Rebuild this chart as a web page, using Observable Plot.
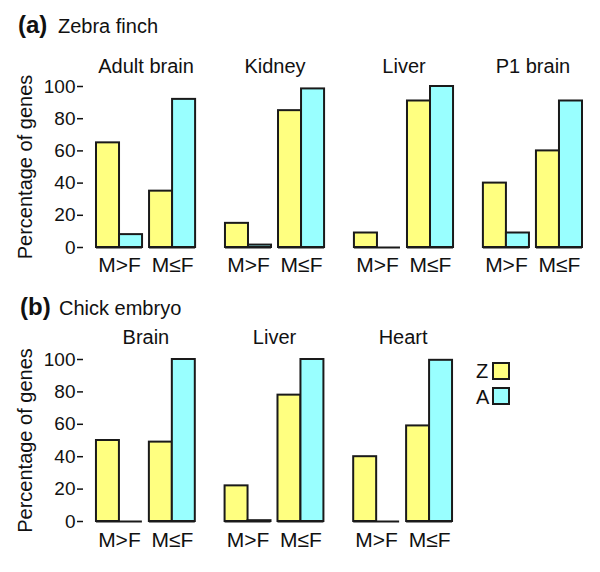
<!DOCTYPE html>
<html>
<head>
<meta charset="utf-8">
<script src="https://cdn.jsdelivr.net/npm/d3@7"></script>
<script src="https://cdn.jsdelivr.net/npm/@observablehq/plot@0.6"></script>
<style>
  html, body { margin: 0; padding: 0; background: #fff; }
  #root { position: relative; width: 600px; height: 572px; font-family: "Liberation Sans", Arial, sans-serif; color: #111; }
  .abs { position: absolute; white-space: nowrap; }
  .tag { font-weight: bold; font-size: 24px; line-height: 24px; }
  .ttl { font-size: 20px; line-height: 20px; }
  .sw { position: absolute; width: 18px; height: 18px; box-sizing: border-box; border: 2px solid #1a1a1a; }
  #root svg g[aria-label="y-axis label"] text { font-size: 20px !important; }
</style>
</head>
<body>
<div id="root"></div>
<script>
// ---- data ----
const groups = ["M>F", "M≤F"];
const series = ["Z", "A"];
const yTicks = [0, 20, 40, 60, 80, 100];

// (a) Zebra finch
const finchTissues = ["Adult brain", "Kidney", "Liver", "P1 brain"];
const finchZ_MgtF = [65, 15, 9, 40];
const finchZ_MleF = [35, 85, 91, 60];
const finchA_MgtF = [8, 1.5, 0, 9];
const finchA_MleF = [92, 98.5, 100, 91];

// (b) Chick embryo
const chickTissues = ["Brain", "Liver", "Heart"];
const chickZ_MgtF = [50, 22, 40];
const chickZ_MleF = [49, 78, 59];
const chickA_MgtF = [0, 0.5, 0];
const chickA_MleF = [100, 100, 99.5];

const colors = {Z: "#ffff80", A: "#99ffff"};
const strokeC = "#1a1a1a";

function rows(tissues, zGt, zLe, aGt, aLe) {
  const out = [];
  tissues.forEach((t, i) => {
    out.push({tissue: t, group: groups[0], series: "Z", value: zGt[i]});
    out.push({tissue: t, group: groups[0], series: "A", value: aGt[i]});
    out.push({tissue: t, group: groups[1], series: "Z", value: zLe[i]});
    out.push({tissue: t, group: groups[1], series: "A", value: aLe[i]});
  });
  return out;
}

const W = 600, ML = 83;
const fxPadInner = 0.03, xPadInner = 0.132, xPadOuter = 0.245;

function panel(tissues, data, {height, marginTop, marginBottom, marginRight, fxPad, xPad}) {
  // bandwidth of one group, used to split each group into its Z | A halves
  const fxBw = d3.scaleBand(tissues, [ML, W - marginRight]).paddingInner(fxPadInner).paddingOuter(0).bandwidth();
  const xBw = d3.scaleBand(groups, [0, fxBw]).paddingInner(xPadInner).paddingOuter(xPadOuter).bandwidth();
  const half = xBw / 2;
  return Plot.plot({
    width: W, height, marginLeft: ML, marginRight, marginTop, marginBottom,
    style: {fontSize: "20px", fontFamily: "'Liberation Sans', Arial, sans-serif", color: "#111", background: "transparent", overflow: "visible"},
    fx: {domain: tissues, paddingInner: fxPadInner, paddingOuter: 0, round: false, label: null},
    x: {domain: groups, paddingInner: xPadInner, paddingOuter: xPadOuter, round: false, label: null},
    y: {domain: [0, 100], label: null},
    marks: [
      Plot.barY(data.filter(d => d.series === "Z"), {fx: "tissue", x: "group", y: "value", fill: colors.Z, stroke: strokeC, strokeWidth: 2, insetRight: half}),
      Plot.barY(data.filter(d => d.series === "A"), {fx: "tissue", x: "group", y: "value", fill: colors.A, stroke: strokeC, strokeWidth: 2, insetLeft: half}),
      Plot.tickY(data.filter(d => d.series === "A"), {fx: "tissue", x: "group", y: 0, stroke: strokeC, strokeWidth: 2}),
      Plot.axisFx({anchor: "top", tickSize: 0, tickPadding: fxPad, label: null, fontSize: 20}),
      Plot.axisX({anchor: "bottom", tickSize: 0, tickPadding: xPad, label: null, fontSize: 21}),
      Plot.axisY({anchor: "left", ticks: yTicks, tickSize: 6, tickPadding: 2, strokeWidth: 1.5, line: true, fontSize: 19,
                  label: "Percentage of genes", labelArrow: "none", labelAnchor: "center", labelOffset: 66})
    ]
  });
}

const root = document.getElementById("root");
function addText(html, cls, left, topPx) {
  const d = document.createElement("div");
  d.className = "abs " + cls;
  d.style.left = left + "px"; d.style.top = topPx + "px";
  d.innerHTML = html;
  root.appendChild(d);
}

const topPanel = panel(finchTissues, rows(finchTissues, finchZ_MgtF, finchZ_MleF, finchA_MgtF, finchA_MleF),
  {height: 285, marginTop: 86, marginBottom: 38, marginRight: 5, fxPad: 14, xPad: 10});
topPanel.style.position = "absolute"; topPanel.style.left = "0px"; topPanel.style.top = "0px";
root.appendChild(topPanel);

const botPanel = panel(chickTissues, rows(chickTissues, chickZ_MgtF, chickZ_MleF, chickA_MgtF, chickA_MleF),
  {height: 287, marginTop: 74, marginBottom: 51, marginRight: 135, fxPad: 16, xPad: 11});
botPanel.style.position = "absolute"; botPanel.style.left = "0px"; botPanel.style.top = "285px";
root.appendChild(botPanel);

// headings
addText("(a)", "tag", 18, 13);
addText("Zebra finch", "ttl", 58, 16);
addText("(b)", "tag", 20, 295);
addText("Chick embryo", "ttl", 59, 298);

// legend
series.forEach((s, i) => {
  const sw = document.createElement("div");
  sw.className = "sw";
  sw.style.left = "492px"; sw.style.top = (362 + i * 25) + "px";
  sw.style.background = colors[s];
  root.appendChild(sw);
  addText(s, "ttl", 476, 361 + i * 26);
});
</script>
</body>
</html>
